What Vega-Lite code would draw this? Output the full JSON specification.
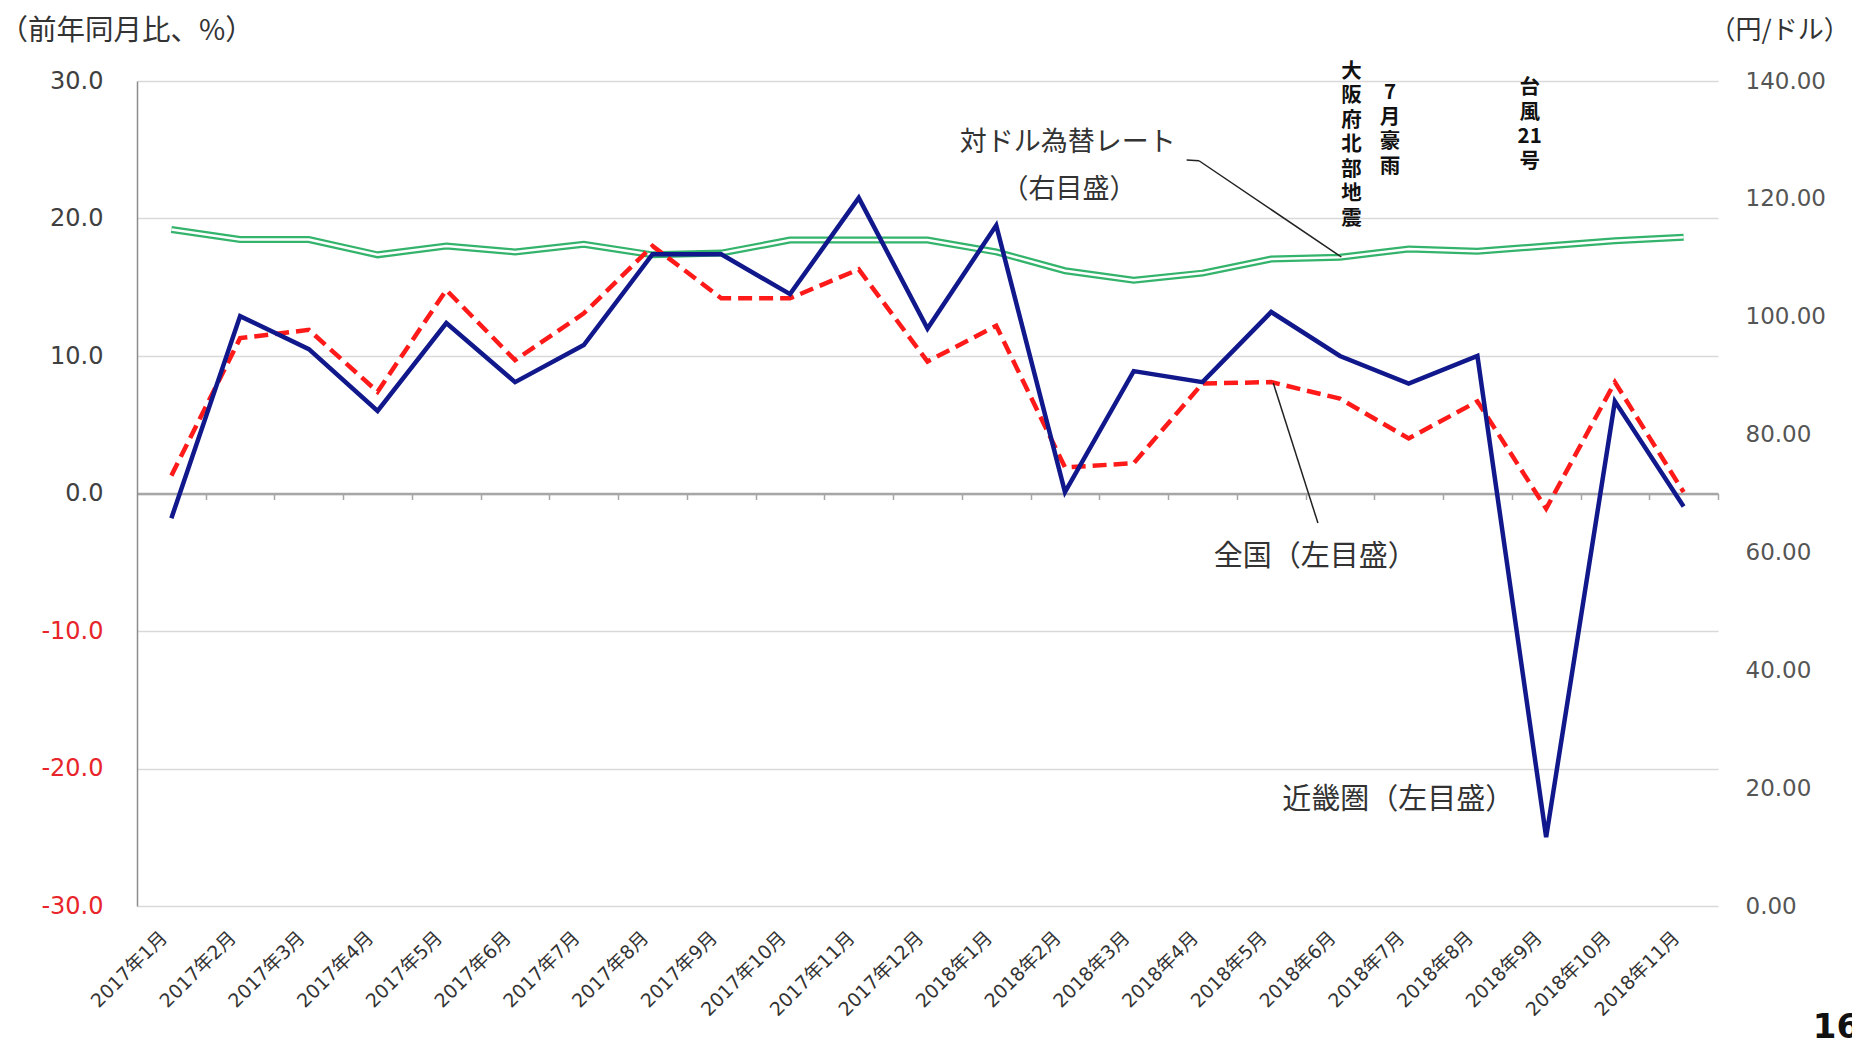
{
  "$schema": "https://vega.github.io/schema/vega-lite/v6.json",
  "width": 1581,
  "height": 825,
  "autosize": {"type": "none"},
  "padding": {"left": 137, "top": 81, "right": 134, "bottom": 138},
  "background": "white",
  "config": {
    "view": {"stroke": null},
    "font": "DejaVu Sans, Noto Sans CJK JP",
    "axis": {"labelFont": "DejaVu Sans, Noto Sans CJK JP", "titleFont": "Noto Sans CJK JP", "labelFlush": false, "labelOverlap": false, "labelBound": false}
  },
  "datasets": {
    "main": [
      {"i": 0, "month": "2017年1月", "kinki": -1.8, "zenkoku": 1.3, "fx": 114.8},
      {"i": 1, "month": "2017年2月", "kinki": 12.9, "zenkoku": 11.3, "fx": 113.1},
      {"i": 2, "month": "2017年3月", "kinki": 10.5, "zenkoku": 11.9, "fx": 113.1},
      {"i": 3, "month": "2017年4月", "kinki": 6.0, "zenkoku": 7.4, "fx": 110.5},
      {"i": 4, "month": "2017年5月", "kinki": 12.4, "zenkoku": 14.8, "fx": 112.0},
      {"i": 5, "month": "2017年6月", "kinki": 8.1, "zenkoku": 9.7, "fx": 111.0},
      {"i": 6, "month": "2017年7月", "kinki": 10.8, "zenkoku": 13.1, "fx": 112.3},
      {"i": 7, "month": "2017年8月", "kinki": 17.4, "zenkoku": 18.0, "fx": 110.5},
      {"i": 8, "month": "2017年9月", "kinki": 17.4, "zenkoku": 14.2, "fx": 110.8},
      {"i": 9, "month": "2017年10月", "kinki": 14.5, "zenkoku": 14.2, "fx": 113.0},
      {"i": 10, "month": "2017年11月", "kinki": 21.5, "zenkoku": 16.3, "fx": 113.0},
      {"i": 11, "month": "2017年12月", "kinki": 12.0, "zenkoku": 9.6, "fx": 113.0},
      {"i": 12, "month": "2018年1月", "kinki": 19.5, "zenkoku": 12.2, "fx": 111.0},
      {"i": 13, "month": "2018年2月", "kinki": 0.1, "zenkoku": 1.9, "fx": 107.8},
      {"i": 14, "month": "2018年3月", "kinki": 8.9, "zenkoku": 2.2, "fx": 106.2},
      {"i": 15, "month": "2018年4月", "kinki": 8.1, "zenkoku": 8.0, "fx": 107.4},
      {"i": 16, "month": "2018年5月", "kinki": 13.2, "zenkoku": 8.1, "fx": 109.8},
      {"i": 17, "month": "2018年6月", "kinki": 10.0, "zenkoku": 6.9, "fx": 110.1},
      {"i": 18, "month": "2018年7月", "kinki": 8.0, "zenkoku": 4.0, "fx": 111.5},
      {"i": 19, "month": "2018年8月", "kinki": 10.0, "zenkoku": 6.7, "fx": 111.1},
      {"i": 20, "month": "2018年9月", "kinki": -25.0, "zenkoku": -1.1, "fx": 112.0},
      {"i": 21, "month": "2018年10月", "kinki": 6.7, "zenkoku": 8.1, "fx": 112.9},
      {"i": 22, "month": "2018年11月", "kinki": -0.95, "zenkoku": 0.1, "fx": 113.5}
    ],
    "notes": [
      {"i": 13.04, "pct": 25.5, "label": "対ドル為替レート"},
      {"i": 13.06, "pct": 22.07, "label": "（右目盛）"}
    ],
    "notes2": [
      {"i": 16.64, "pct": -4.62, "label": "全国（左目盛）"},
      {"i": 17.85, "pct": -22.3, "label": "近畿圏（左目盛）"}
    ],
    "vnotes": [
      {"i": 17.17, "pct": 31.4, "label": "大\n阪\n府\n北\n部\n地\n震"},
      {"i": 17.73, "pct": 29.85, "label": "7\n月\n豪\n雨"},
      {"i": 19.76, "pct": 30.2, "label": "台\n風\n21\n号"}
    ],
    "leaders": [
      {"i": 14.77, "pct": 24.25, "i2": 14.95, "pct2": 24.2},
      {"i": 14.95, "pct": 24.2, "i2": 17.02, "pct2": 17.2},
      {"i": 16.03, "pct": 8.04, "i2": 16.68, "pct2": -2.15}
    ],
    "page": [
      {"i": 23.88, "pct": -38.9, "label": "16"}
    ]
  },
  "layer": [
    {
      "data": {"name": "main"},
      "encoding": {
        "x": {"field": "i", "type": "quantitative", "scale": {"domain": [-0.5, 22.5], "nice": false, "zero": false},
          "axis": {"orient": "bottom", "offset": -412.5, "labels": false, "ticks": true, "tickSize": 6, "tickColor": "#a6a6a6", "tickWidth": 1.5, "domain": true, "domainColor": "#a6a6a6", "domainWidth": 2.5, "grid": false, "title": null,
            "values": [0.5, 1.5, 2.5, 3.5, 4.5, 5.5, 6.5, 7.5, 8.5, 9.5, 10.5, 11.5, 12.5, 13.5, 14.5, 15.5, 16.5, 17.5, 18.5, 19.5, 20.5, 21.5, 22.5]}},
        "y": {"field": "fx", "type": "quantitative", "scale": {"domain": [0, 140], "nice": false, "zero": false},
          "axis": {"orient": "right", "values": [0, 20, 40, 60, 80, 100, 120, 140], "format": ".2f", "grid": false, "domain": false, "ticks": false, "tickSize": 0, "labelPadding": 27, "labelFontSize": 23, "labelColor": "#555555",
            "title": "（円/ドル）", "titleAngle": 0, "titleX": -9, "titleY": -51, "titleAlign": "left", "titleBaseline": "middle", "titleFontSize": 26, "titleFontWeight": "normal", "titleColor": "#333333"}}
      },
      "layer": [
        {"mark": {"type": "line", "stroke": "#33b36b", "strokeWidth": 7}},
        {"mark": {"type": "line", "stroke": "white", "strokeWidth": 2.5}}
      ]
    },
    {
      "encoding": {
        "x": {"field": "i", "type": "quantitative", "scale": {"domain": [-0.5, 22.5], "nice": false, "zero": false},
          "axis": {"orient": "bottom", "values": [0, 1, 2, 3, 4, 5, 6, 7, 8, 9, 10, 11, 12, 13, 14, 15, 16, 17, 18, 19, 20, 21, 22],
            "labelExpr": "datum.value < 12 ? '2017年' + (datum.value + 1) + '月' : '2018年' + (datum.value - 11) + '月'",
            "labelAngle": -45, "labelAlign": "right", "labelBaseline": "top", "labelPadding": 22, "labelOffset": -14, "labelFontSize": 19, "labelColor": "#333333",
            "ticks": false, "tickSize": 0, "domain": false, "grid": false, "title": null}},
        "y": {"field": "pct", "type": "quantitative", "scale": {"domain": [-30, 30], "nice": false, "zero": false},
          "axis": {"orient": "left", "values": [-30, -20, -10, 0, 10, 20, 30],
            "labelExpr": "(datum.value < 0 ? '-' : '') + format(abs(datum.value), '.1f')",
            "grid": true, "gridColor": "#d9d9d9", "gridWidth": 1.5,
            "domain": true, "domainColor": "#8c8c8c", "domainWidth": 1.5, "ticks": false, "tickSize": 0, "labelPadding": 34, "labelFontSize": 24,
            "labelColor": {"condition": {"test": "datum.value < 0", "value": "#e8252a"}, "value": "#404040"},
            "title": "（前年同月比、%）", "titleAngle": 0, "titleX": -138, "titleY": -51, "titleAlign": "left", "titleBaseline": "middle", "titleFontSize": 28.5, "titleFontWeight": "normal", "titleColor": "#333333"}}
      },
      "layer": [
        {
          "data": {"name": "main"},
          "transform": [{"fold": ["zenkoku"], "as": ["series", "pct"]}],
          "mark": {"type": "line", "stroke": "#ff1a1a", "strokeWidth": 4.5, "strokeDash": [14, 7]}
        },
        {
          "data": {"name": "main"},
          "transform": [{"fold": ["kinki"], "as": ["series", "pct"]}],
          "mark": {"type": "line", "stroke": "#10188c", "strokeWidth": 4.5}
        },
        {
          "data": {"name": "leaders"},
          "mark": {"type": "rule", "stroke": "#222222", "strokeWidth": 1.5},
          "encoding": {"x2": {"field": "i2"}, "y2": {"field": "pct2"}}
        },
        {
          "data": {"name": "notes"},
          "mark": {"type": "text", "font": "Noto Sans CJK JP", "fontSize": 27, "color": "#333333", "align": "center", "baseline": "middle"},
          "encoding": {"text": {"field": "label"}}
        },
        {
          "data": {"name": "notes2"},
          "mark": {"type": "text", "font": "Noto Sans CJK JP", "fontSize": 29, "color": "#333333", "align": "center", "baseline": "middle"},
          "encoding": {"text": {"field": "label"}}
        },
        {
          "data": {"name": "vnotes"},
          "mark": {"type": "text", "font": "Noto Sans CJK JP", "fontSize": 20.5, "fontWeight": "bold", "color": "#111111", "align": "center", "baseline": "top", "lineBreak": "\n", "lineHeight": 24.5},
          "encoding": {"text": {"field": "label"}}
        },
        {
          "data": {"name": "page"},
          "mark": {"type": "text", "font": "DejaVu Sans", "fontSize": 34, "fontWeight": "bold", "color": "#111111", "align": "left", "baseline": "middle"},
          "encoding": {"text": {"field": "label"}}
        }
      ]
    }
  ],
  "resolve": {"scale": {"x": "independent", "y": "independent"}}
}
